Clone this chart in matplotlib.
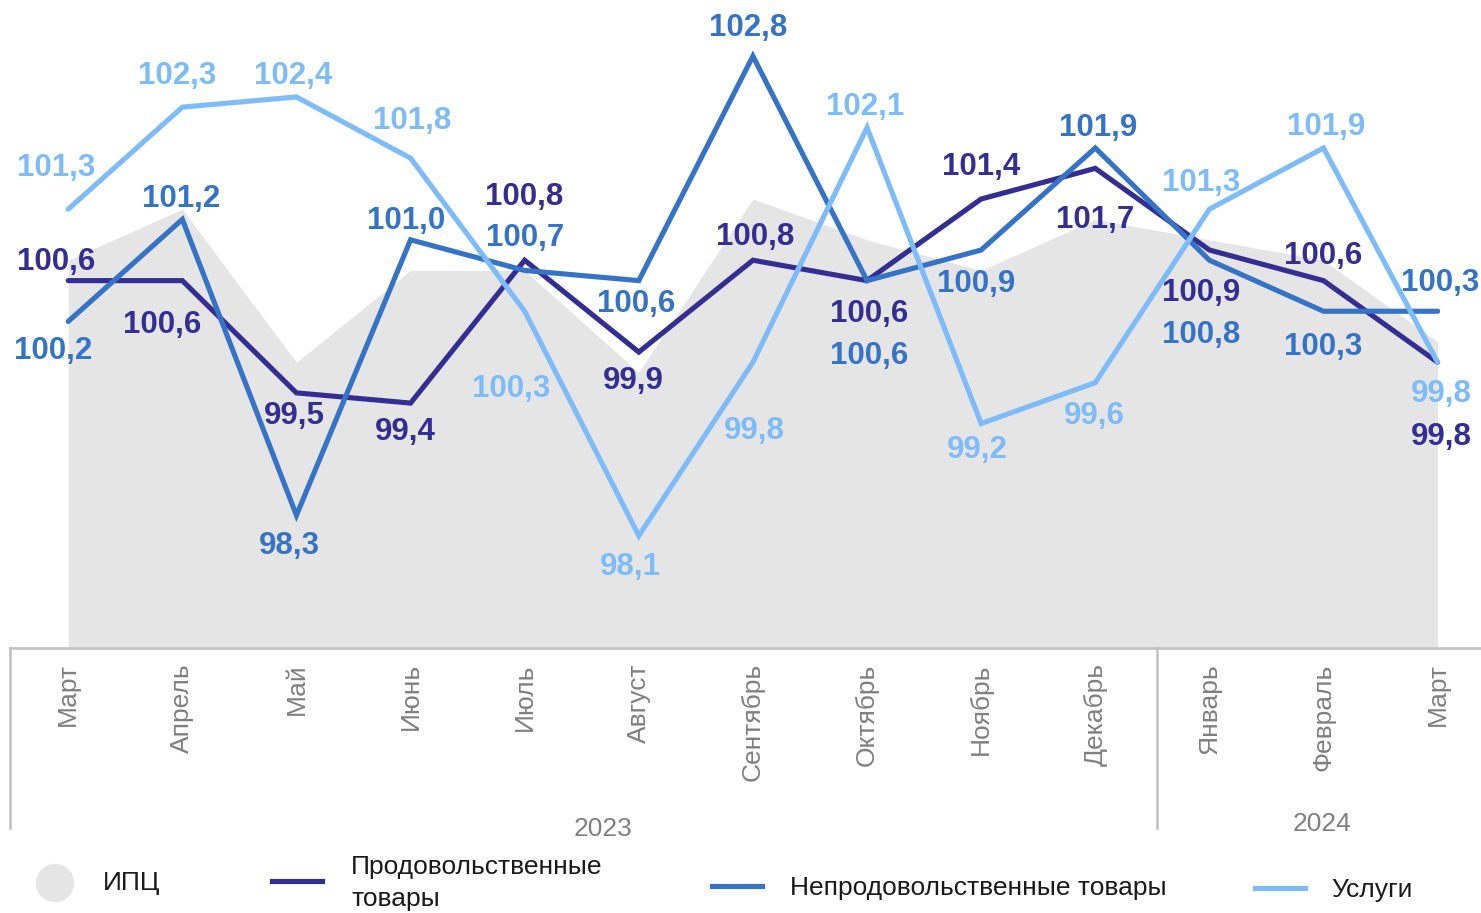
import matplotlib
matplotlib.use("Agg")
import matplotlib.pyplot as plt
import matplotlib.transforms as mtransforms
from matplotlib.lines import Line2D
from matplotlib.patches import Ellipse

plt.rcParams['font.family'] = ['Liberation Sans', 'DejaVu Sans']

# --- data ---
months = ["Март", "Апрель", "Май", "Июнь", "Июль", "Август", "Сентябрь",
          "Октябрь", "Ноябрь", "Декабрь", "Январь", "Февраль", "Март"]
years = ["2023", "2024"]
cpi = [100.8, 101.3, 99.8, 100.7, 100.7, 99.7, 101.4, 101.0, 100.7, 101.2, 101.0, 100.8, 100.0]
food = [100.6, 100.6, 99.5, 99.4, 100.8, 99.9, 100.8, 100.6, 101.4, 101.7, 100.9, 100.6, 99.8]
nonfood = [100.2, 101.2, 98.3, 101.0, 100.7, 100.6, 102.8, 100.6, 100.9, 101.9, 100.8, 100.3, 100.3]
services = [101.3, 102.3, 102.4, 101.8, 100.3, 98.1, 99.8, 102.1, 99.2, 99.6, 101.3, 101.9, 99.8]

# label offsets in pixels (dx, dy) relative to each point
food_off = [(-12, 21), (-20, -42), (-2, -21), (-5, -27), (0, 65), (-5, -27), (2, 25),
            (2, -31), (0, 34), (0, -50), (-8, -41), (0, 27), (4, -73)]
nonfood_off = [(-15, -28), (-1, 22), (-7, -29), (-4, 21), (0, 34), (-3, -21), (-5, 30),
               (2, -73), (-5, -32), (3, 22), (-8, -73), (0, -34), (2, 30)]
services_off = [(-12, 43), (-5, 33), (-3, 23), (2, 39), (-14, -76), (-8, -29), (1, -67),
                (-2, 23), (-4, -25), (-1, -31), (-8, 28), (3, 23), (4, -30)]

c_cpi = "#E5E5E5"
c_food = "#342E92"
c_nonfood = "#3573C6"
c_serv = "#7DBCF8"
c_grey = "#808080"

W, H = 1481, 913
fig = plt.figure(figsize=(W / 100, H / 100), dpi=100)
ax = fig.add_axes([10 / W, (H - 648) / H, (W - 10) / W, 648 / H])

x = list(range(len(months)))
ax.fill_between(x, 97.0, cpi, color=c_cpi, lw=0, zorder=1)

series = [(food, c_food, food_off), (nonfood, c_nonfood, nonfood_off),
          (services, c_serv, services_off)]
for vals, col, offs in series:
    ax.plot(x, vals, color=col, lw=3.7, solid_capstyle='round',
            solid_joinstyle='miter', zorder=3)
for vals, col, offs in series:
    for xi, v, (dx, dy) in zip(x, vals, offs):
        ax.annotate(f"{v:.1f}".replace(".", ","), (xi, v), xytext=(dx, dy - 2),
                    textcoords='offset pixels', ha='center', va='center',
                    fontsize=22.5, fontweight='bold', color=col, zorder=4)

ax.set_xlim(-0.51, 12.38)
ax.set_ylim(97.0, 103.35)
ax.set_yticks([])
ax.set_xticks(x)
ax.set_xticklabels(months, rotation=90, fontsize=19, color=c_grey)
ax.tick_params(axis='x', length=0, pad=11)
for s in ['top', 'left', 'right']:
    ax.spines[s].set_visible(False)
ax.spines['bottom'].set_color('#BFBFBF')
ax.spines['bottom'].set_linewidth(1.8)

# group separators and year labels
tr = mtransforms.blended_transform_factory(ax.transData, ax.transAxes)
for sx in [-0.51, 9.54]:
    ax.plot([sx, sx], [0, -0.278], color='#BFBFBF', lw=1.8, transform=tr, clip_on=False)
ax.text(4.69, -0.279, years[0], transform=tr, ha='center', va='center',
        fontsize=19, color=c_grey)
ax.text(10.99, -0.272, years[1], transform=tr, ha='center', va='center',
        fontsize=19, color=c_grey)

# legend drawn by hand
def fx(px):
    return px / W

def fy(py):
    return 1 - py / H

fig.add_artist(Ellipse((fx(55), fy(883)), 37 / W, 37 / H, color=c_cpi,
                       transform=fig.transFigure))
fig.text(fx(103), fy(883), "ИПЦ", fontsize=19, color='#1A1A1A', va='center')
for (x0, yy, col, label, tx) in [(272, 881, c_food, "Продовольственные\nтовары", 351),
                                  (712, 886, c_nonfood, "Непродовольственные товары", 790),
                                  (1255, 888, c_serv, "Услуги", 1331)]:
    fig.add_artist(Line2D([fx(x0), fx(x0 + 50)], [fy(yy), fy(yy)], color=col, lw=3.7,
                          transform=fig.transFigure))
    fig.text(fx(tx), fy(yy + 2), label, fontsize=19, color='#1A1A1A', va='center',
             linespacing=1.4)

fig.savefig("out.png", dpi=100)
